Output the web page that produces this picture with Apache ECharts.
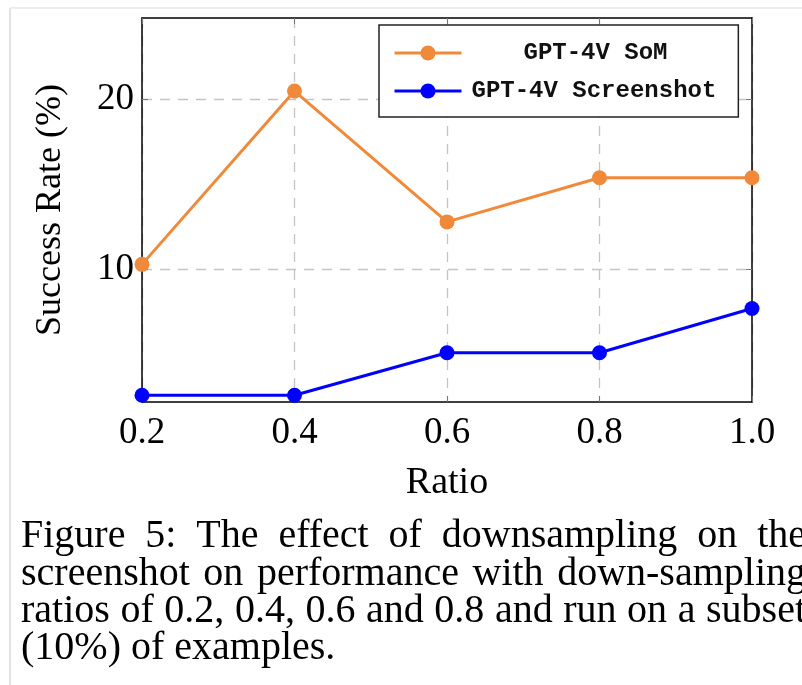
<!DOCTYPE html>
<html><head><meta charset="utf-8">
<script src="https://cdn.jsdelivr.net/npm/echarts@6/dist/echarts.min.js"></script>
<style>html,body{margin:0;padding:0;background:#fff}#c{width:802px;height:685px}</style>
</head><body><div id="c"></div>
<script>
const ratios = ['0.2', '0.4', '0.6', '0.8', '1.0'];
const somRates = [10.3, 20.5, 12.8, 15.4, 15.4];
const screenshotRates = [2.6, 2.6, 5.1, 5.1, 7.7];
const yTickValues = [10, 20];
const seriesNames = ['GPT-4V SoM', 'GPT-4V Screenshot'];
const xAxisName = 'Ratio';
const yAxisName = 'Success Rate (%)';
const captionLines = [
  'Figure 5:  The effect of downsampling on the',
  'screenshot on performance with down-sampling',
  'ratios of 0.2, 0.4, 0.6 and 0.8 and run on a subset',
  '(10%) of examples.'
];

const SERIF = '"Liberation Serif", "Times New Roman", serif';
const MONO = '"Liberation Mono", "Courier New", monospace';

// caption layout (justified lines like the LaTeX figure caption)
const capFont = 40, capLeft = 21, capRight = 806, capBase0 = 549, capStep = 37.3;
const mctx = document.createElement('canvas').getContext('2d');
mctx.font = capFont + 'px ' + SERIF;
const captionEls = [];
captionLines.forEach((line, i) => {
  const words = line.split(/ +/);
  const widths = words.map(w => mctx.measureText(w).width);
  const total = widths.reduce((a, b) => a + b, 0);
  const justify = i < captionLines.length - 1;
  const gap = justify ? (capRight - capLeft - total) / (words.length - 1) : mctx.measureText(' ').width;
  let x = capLeft;
  words.forEach((w, k) => {
    captionEls.push({
      type: 'text', x: x, y: capBase0 + i * capStep - 0.305 * capFont,
      style: { text: w, fontFamily: SERIF, fontSize: capFont, fill: '#000', verticalAlign: 'middle', align: 'left' }
    });
    x += widths[k] + gap;
  });
});

const gridLine = { color: '#c4c4c4', width: 1.3, type: [10, 8] };
const frameLine = { color: '#000', width: 1.5 };
const tickStyle = { color: '#777', width: 1 };

const chart = echarts.init(document.getElementById('c'), null, { renderer: 'canvas' });
chart.setOption({
  animation: false,
  backgroundColor: '#fff',
  grid: { left: 142, right: 50, top: 18, bottom: 283, show: false },
  xAxis: [
    {
      type: 'category', data: ratios, boundaryGap: false, position: 'bottom',
      name: xAxisName, nameLocation: 'middle', nameGap: 62,
      nameTextStyle: { fontFamily: SERIF, fontSize: 38, color: '#000' },
      axisLine: { show: true, lineStyle: frameLine },
      axisTick: { show: true, inside: true, length: 6, lineStyle: tickStyle },
      axisLabel: { interval: 0, color: '#000', fontFamily: SERIF, fontSize: 37, margin: 13 },
      splitLine: { show: true, interval: 0, lineStyle: gridLine }
    },
    {
      type: 'category', data: ratios, boundaryGap: false, position: 'top',
      axisLine: { show: true, lineStyle: frameLine },
      axisTick: { show: true, inside: true, length: 6, lineStyle: tickStyle },
      axisLabel: { show: false }, splitLine: { show: false }
    }
  ],
  yAxis: [
    {
      type: 'value', min: 2.2, max: 24.8, position: 'left',
      name: yAxisName, nameLocation: 'middle', nameGap: 73, nameRotate: 90,
      nameTextStyle: { fontFamily: SERIF, fontSize: 36, color: '#000' },
      axisLine: { show: true, lineStyle: frameLine },
      axisTick: { show: true, inside: true, length: 6, customValues: yTickValues, lineStyle: tickStyle },
      axisLabel: { customValues: yTickValues, color: '#000', fontFamily: SERIF, fontSize: 37, margin: 8 },
      splitLine: { show: true, customValues: yTickValues, lineStyle: gridLine }
    },
    {
      type: 'value', min: 2.2, max: 24.8, position: 'right',
      axisLine: { show: true, lineStyle: frameLine },
      axisTick: { show: true, inside: true, length: 6, customValues: yTickValues, lineStyle: tickStyle },
      axisLabel: { show: false }, splitLine: { show: false }
    }
  ],
  legend: {
    orient: 'vertical', left: 379, top: 25,
    padding: [16, 22, 14, 14], itemGap: 14, itemWidth: 67, itemHeight: 19,
    borderColor: '#222', borderWidth: 1.5, backgroundColor: '#fff',
    lineStyle: { width: 3 },
    data: seriesNames,
    formatter: name => (name === seriesNames[0] ? '{a|' + name + '}' : '{b|' + name + '}'),
    textStyle: {
      fontFamily: MONO, fontSize: 24, color: '#111', fontWeight: 'bold',
      rich: {
        a: { fontFamily: MONO, fontSize: 24, color: '#111', fontWeight: 'bold', padding: [0, 0, 0, 57] },
        b: { fontFamily: MONO, fontSize: 24, color: '#111', fontWeight: 'bold', padding: [0, 0, 0, 5] }
      }
    }
  },
  series: [
    {
      name: seriesNames[0], type: 'line', data: somRates, clip: false,
      symbol: 'circle', symbolSize: 15,
      itemStyle: { color: '#F08A3A' }, lineStyle: { color: '#F08A3A', width: 3 }
    },
    {
      name: seriesNames[1], type: 'line', data: screenshotRates, clip: false,
      symbol: 'circle', symbolSize: 15,
      itemStyle: { color: '#0000FF' }, lineStyle: { color: '#0000FF', width: 3 }
    }
  ],
  graphic: [
    { type: 'line', shape: { x1: 10, y1: 8, x2: 10, y2: 685 }, style: { stroke: '#e2e2e2', lineWidth: 2 }, silent: true },
    { type: 'line', shape: { x1: 10, y1: 8, x2: 802, y2: 8 }, style: { stroke: '#ececec', lineWidth: 2 }, silent: true }
  ].concat(captionEls)
});
</script>
</body></html>
